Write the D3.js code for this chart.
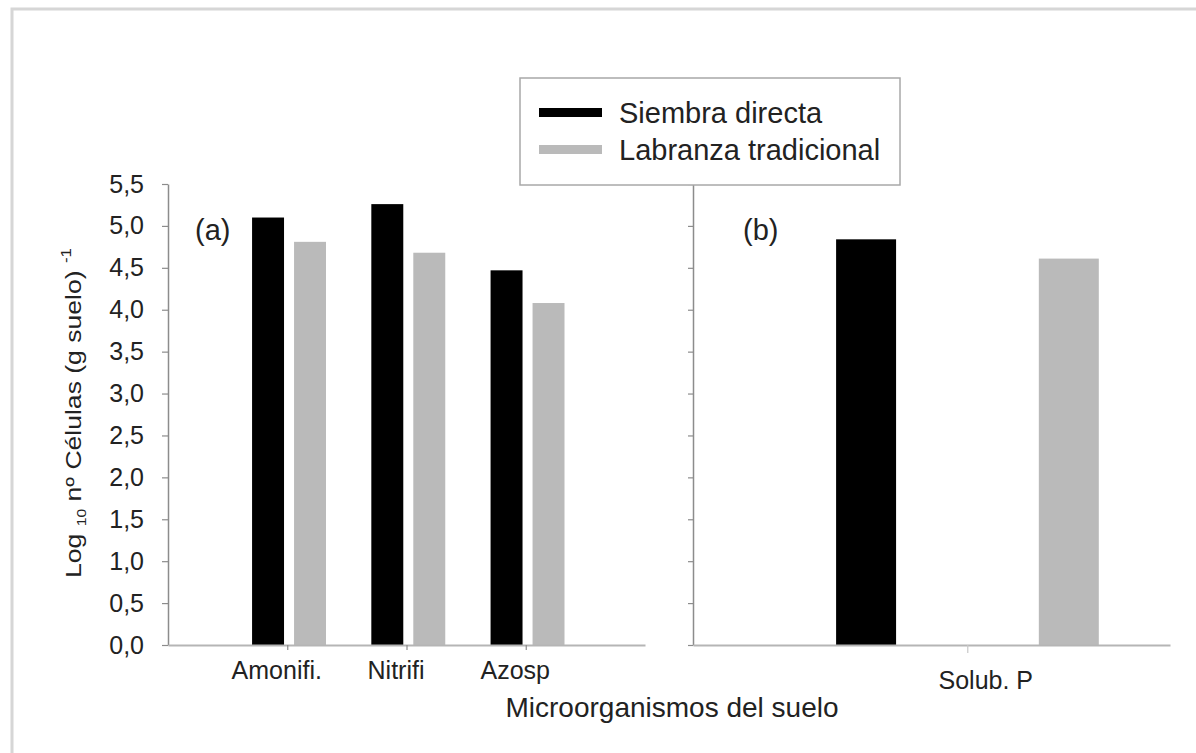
<!DOCTYPE html>
<html>
<head>
<meta charset="utf-8">
<script src="https://cdn.jsdelivr.net/npm/d3@7"></script>
<style>
  html, body { margin: 0; padding: 0; background: #fff; }
  svg { display: block; font-family: "Liberation Sans", Arial, sans-serif; }
</style>
</head>
<body>
<svg id="chart" width="1196" height="753"></svg>
<script>
// ---- data ----
const categoriesA = ["Amonifi.", "Nitrifi", "Azosp"];
const siembraA = [5.10, 5.26, 4.47];
const labranzaA = [4.81, 4.68, 4.08];
const categoriesB = ["Solub. P"];
const siembraB = [4.84];
const labranzaB = [4.61];
const seriesNames = ["Siembra directa", "Labranza tradicional"];
const yTickValues = [0, 0.5, 1, 1.5, 2, 2.5, 3, 3.5, 4, 4.5, 5, 5.5];
const yTickLabels = ["0,0", "0,5", "1,0", "1,5", "2,0", "2,5", "3,0", "3,5", "4,0", "4,5", "5,0", "5,5"];
const panelLabels = ["(a)", "(b)"];
const xAxisTitle = "Microorganismos del suelo";

// ---- layout ----
const svg = d3.select("#chart");
const colors = ["#000000", "#bababa"];
const axisColor = "#8c8c8c";
const textColor = "#222";

// outer frame
svg.append("rect").attr("x", 12).attr("y", 9).attr("width", 1220).attr("height", 780)
  .attr("fill", "none").attr("stroke", "#d6d6d6").attr("stroke-width", 3);

const y = d3.scaleLinear().domain([0, 5.5]).range([645, 184]);
const xA = d3.scaleLinear().domain([0, 4]).range([168, 645]);
const xB = d3.scaleLinear().domain([0, 4]).range([693, 1170]);

// panel A bars
const barWA = 0.268;
const offA = [-0.295, 0.057];
const dataA = categoriesA.map((c, i) => ({ c, pos: i + 1, vals: [siembraA[i], labranzaA[i]] }));
const gA = svg.append("g");
dataA.forEach(d => {
  d.vals.forEach((v, k) => {
    gA.append("rect")
      .attr("x", xA(d.pos + offA[k]))
      .attr("width", xA(barWA) - xA(0))
      .attr("y", y(v))
      .attr("height", y(0) - y(v))
      .attr("fill", colors[k]);
  });
});

// panel B bars
const posB = 2.3;
const barWB = 0.503;
const offB = [-1.1, 0.6];
const dataB = categoriesB.map((c, i) => ({ c, pos: posB, vals: [siembraB[i], labranzaB[i]] }));
const gB = svg.append("g");
dataB.forEach(d => {
  d.vals.forEach((v, k) => {
    gB.append("rect")
      .attr("x", xB(d.pos + offB[k]))
      .attr("width", xB(barWB) - xB(0))
      .attr("y", y(v))
      .attr("height", y(0) - y(v))
      .attr("fill", colors[k]);
  });
});

// y axes
function styleAxis(g) {
  g.selectAll(".domain").attr("stroke", axisColor).attr("stroke-width", 1.5);
  g.selectAll(".tick line").attr("stroke", axisColor).attr("stroke-width", 1.2);
  g.selectAll("text").attr("fill", textColor);
}
const yAxisA = svg.append("g").attr("transform", `translate(${xA(0)},0)`)
  .call(d3.axisLeft(y).tickValues(yTickValues).tickFormat((d, i) => yTickLabels[i])
    .tickSize(6).tickSizeOuter(0).tickPadding(18));
yAxisA.selectAll("text").attr("font-size", 25).attr("font-family", "Liberation Sans, Arial, sans-serif");
styleAxis(yAxisA);

const yAxisB = svg.append("g").attr("transform", `translate(${xB(0)},0)`)
  .call(d3.axisLeft(y).tickValues(yTickValues).tickFormat("").tickSize(5).tickSizeOuter(0));
styleAxis(yAxisB);

// x axes
const xAxisA = svg.append("g").attr("transform", `translate(0,${y(0)})`)
  .call(d3.axisBottom(xA).tickValues(dataA.map(d => d.pos)).tickFormat((d, i) => categoriesA[i])
    .tickSize(5).tickSizeOuter(0).tickPadding(11));
xAxisA.selectAll("text").attr("font-size", 25).attr("font-family", "Liberation Sans, Arial, sans-serif").attr("dx", -11);
styleAxis(xAxisA);
xAxisA.select(".domain").attr("stroke", "#b5b5b5").attr("stroke-width", 2);

const xAxisB = svg.append("g").attr("transform", `translate(0,${y(0)})`)
  .call(d3.axisBottom(xB).tickValues(dataB.map(d => d.pos)).tickFormat((d, i) => categoriesB[i])
    .tickSize(8).tickSizeOuter(0).tickPadding(18));
xAxisB.selectAll("text").attr("font-size", 25).attr("font-family", "Liberation Sans, Arial, sans-serif").attr("dx", 18);
styleAxis(xAxisB);
xAxisB.select(".domain").attr("stroke", "#b5b5b5").attr("stroke-width", 2);
xAxisB.selectAll(".tick line").attr("stroke", "#c8c8c8");

// panel labels
svg.append("text").attr("x", 195).attr("y", 240).attr("font-size", 29).attr("fill", textColor).text(panelLabels[0]);
svg.append("text").attr("x", 743).attr("y", 240).attr("font-size", 29).attr("fill", textColor).text(panelLabels[1]);

// x axis title
svg.append("text").attr("x", 672).attr("y", 717).attr("text-anchor", "middle")
  .attr("font-size", 28).attr("fill", textColor).text(xAxisTitle);

// y axis title
const yt = svg.append("g").attr("transform", "translate(81,413) rotate(-90)");
const ytText = yt.append("text").attr("text-anchor", "middle").attr("font-size", 22).attr("fill", textColor);
ytText.append("tspan").text("Log ");
ytText.append("tspan").attr("font-size", 13).attr("dy", 5).text("10");
ytText.append("tspan").attr("dy", -5).text(" nº Células (g suelo) ");
ytText.append("tspan").attr("font-size", 14).attr("dy", -10).text("-1");
const len = ytText.node().getComputedTextLength();
ytText.attr("transform", `scale(${330 / len},1)`);

// legend
const lg = svg.append("g");
lg.append("rect").attr("x", 520).attr("y", 78).attr("width", 380).attr("height", 107)
  .attr("fill", "#fff").attr("stroke", "#a8a8a8").attr("stroke-width", 1.5);
seriesNames.forEach((name, k) => {
  const cy = 112.5 + k * 37;
  lg.append("rect").attr("x", 539).attr("y", cy - 4.5).attr("width", 63).attr("height", 9).attr("fill", colors[k]);
  lg.append("text").attr("x", 619).attr("y", cy + 10.5).attr("font-size", 29).attr("fill", textColor).text(name);
});
</script>
</body>
</html>
